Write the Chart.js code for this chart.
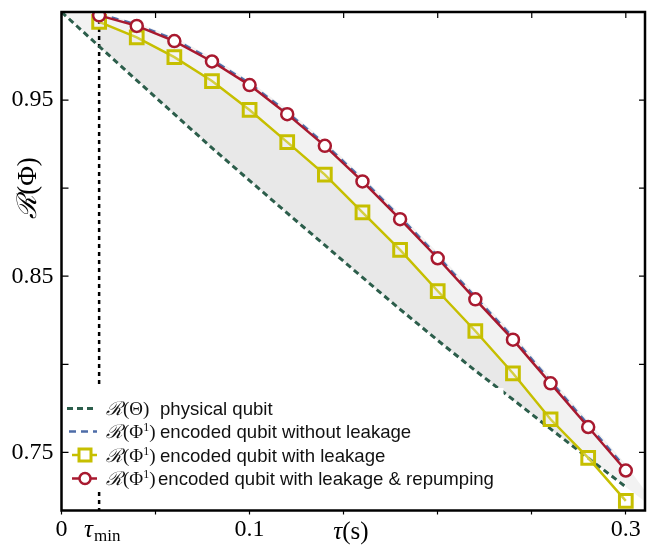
<!DOCTYPE html>
<html><head><meta charset="utf-8">
<script src="https://cdn.jsdelivr.net/npm/chart.js@4.4.1/dist/chart.umd.min.js"></script>
<style>html,body{margin:0;padding:0;background:#fff}#wrap{width:657px;height:548px}</style>
</head><body><div id="wrap"><canvas id="c" width="657" height="548"></canvas></div>
<script>
// ---- data ----
const tau = [0.02,0.04,0.06,0.08,0.10,0.12,0.14,0.16,0.18,0.20,0.22,0.24,0.26,0.28,0.30];
const repumped = [0.9981,0.9921,0.9835,0.9719,0.9585,0.9420,0.9240,0.9038,0.8824,0.8602,0.8369,0.8140,0.7892,0.7644,0.7397];
const withLeakage = [0.9944,0.9856,0.9744,0.9608,0.9444,0.9261,0.9077,0.8863,0.8649,0.8416,0.8189,0.7949,0.7688,0.7469,0.7225];
const noLeakage = [0.9988,0.9929,0.9844,0.9729,0.9595,0.9431,0.9251,0.9050,0.8836,0.8614,0.8382,0.8153,0.7905,0.7657,0.7410];
const physTau = [0,0.02,0.04,0.06,0.08,0.10,0.12,0.14,0.16,0.18,0.20,0.22,0.24,0.26,0.28,0.30,0.31];
const physical = [1.0,0.9805,0.9612,0.9420,0.9228,0.9043,0.8858,0.8676,0.8493,0.8312,0.8136,0.7964,0.7800,0.7633,0.7468,0.7304,0.7222];
const boundTau = [0,0.02,0.04,0.06,0.08,0.10,0.12,0.14,0.16,0.18,0.20,0.22,0.24,0.26,0.28,0.30,0.31];
const upperBound = [1.0,0.9995,0.9940,0.9857,0.9743,0.9610,0.9447,0.9268,0.9068,0.8855,0.8633,0.8402,0.8174,0.7927,0.7680,0.7433,0.7285];
const tauMin = 0.02;
const xTickValues = [0,0.05,0.10,0.15,0.20,0.25,0.30];
const xTickLabels = ['0','','0.1','','','','0.3'];
const yTickValues = [0.75,0.80,0.85,0.90,0.95];
const yTickLabels = ['0.75','','0.85','','0.95'];
const legendLabels = ['physical qubit','encoded qubit without leakage','encoded qubit with leakage','encoded qubit with leakage & repumping'];

const RED='#a8192f', YEL='#c6bf00', GRN='#2c5e4b', BLU='#4d6ca8';
const pts = (xs, ys) => xs.map((x,i)=>({x, y: ys[i]}));
const SERIF='"Liberation Serif", "DejaVu Serif", serif';
const SANS='"Liberation Sans", Arial, sans-serif';

function rich(ctx, x, y, parts){
  ctx.textAlign='left'; ctx.textBaseline='alphabetic';
  for(const p of parts){ ctx.font=p.f; ctx.fillText(p.t, x, y+(p.dy||0)); x+=ctx.measureText(p.t).width; }
  return x;
}
function richWidth(ctx, parts){ let w=0; for(const p of parts){ctx.font=p.f; w+=ctx.measureText(p.t).width;} return w; }

const decor = {
  id:'decor',
  afterDraw(chart){
    const {ctx, chartArea:a, scales:{x,y}} = chart;
    ctx.save();
    // legend
    ctx.fillStyle='#fff';
    ctx.fillRect(a.left+2, 388, 440, 104);
    const rows=[408.5,431.5,455,478.5];
    const ix0=67, ix1=97, icx=85;
    ctx.lineCap='butt';
    ctx.strokeStyle=GRN; ctx.lineWidth=3; ctx.setLineDash([6,4]);
    ctx.beginPath(); ctx.moveTo(ix0,rows[0]); ctx.lineTo(ix1,rows[0]); ctx.stroke();
    ctx.strokeStyle=BLU; ctx.lineWidth=2.5; ctx.setLineDash([7,5]);
    ctx.beginPath(); ctx.moveTo(ix0+2,rows[1]); ctx.lineTo(ix1,rows[1]); ctx.stroke();
    ctx.setLineDash([]);
    ctx.strokeStyle=YEL; ctx.lineWidth=2.5;
    ctx.beginPath(); ctx.moveTo(ix0+5,rows[2]); ctx.lineTo(ix1,rows[2]); ctx.stroke();
    ctx.lineWidth=3; ctx.fillStyle='#fff';
    ctx.fillRect(icx-6,rows[2]-6,12,12); ctx.strokeRect(icx-6,rows[2]-6,12,12);
    ctx.strokeStyle=RED; ctx.lineWidth=2.5;
    ctx.beginPath(); ctx.moveTo(ix0+5,rows[3]); ctx.lineTo(ix1,rows[3]); ctx.stroke();
    ctx.beginPath(); ctx.arc(icx,rows[3],5.5,0,Math.PI*2); ctx.fillStyle='#fff'; ctx.fill(); ctx.stroke();
    ctx.fillStyle='#111';
    const fS='italic 19px '+SERIF, fN='19px '+SERIF, fSup='12px '+SERIF, fT='18.6px '+SANS;
    const pre1=[{t:'ℛ',f:fS},{t:'(Θ)',f:fN}];
    const preP=[{t:'ℛ',f:fS},{t:'(Φ',f:fN},{t:'1',f:fSup,dy:-7},{t:')',f:fN}];
    const tx=106, txt=[160,160,160,158];
    [pre1,preP,preP,preP].forEach((p,i)=>{
      const base=rows[i]+6.5;
      rich(ctx,tx,base,p);
      ctx.font=fT; ctx.fillText(legendLabels[i], txt[i], base);
    });
    // frame
    ctx.strokeStyle='#000'; ctx.lineWidth=2.5; ctx.setLineDash([]);
    ctx.strokeRect(a.left, a.top, a.right-a.left, a.bottom-a.top);
    // mirrored / inward ticks
    ctx.lineWidth=1.2;
    ctx.beginPath();
    for(const v of xTickValues){ const px=x.getPixelForValue(v); ctx.moveTo(px,a.top); ctx.lineTo(px,a.top+6); }
    for(const v of yTickValues){ const py=y.getPixelForValue(v); ctx.moveTo(a.left,py); ctx.lineTo(a.left+7,py); ctx.moveTo(a.right,py); ctx.lineTo(a.right-6,py); }
    ctx.stroke();
    // tau_min label
    ctx.fillStyle='#000';
    const tmx=x.getPixelForValue(tauMin);
    rich(ctx, tmx-15, 537, [{t:'τ',f:'italic 25px '+SERIF}]);
    rich(ctx, tmx-5, 540.5, [{t:'min',f:'17px '+SERIF}]);
    // x title
    const xt=[{t:'τ',f:'italic 25px '+SERIF},{t:'(s)',f:'25px '+SERIF}];
    rich(ctx, 351-richWidth(ctx,xt)/2, 539, xt);
    // y title
    const yt=[{t:'ℛ',f:'italic 27px '+SERIF},{t:'(Φ)',f:'27px '+SERIF}];
    ctx.translate(36,188); ctx.rotate(-Math.PI/2);
    rich(ctx, -richWidth(ctx,yt)/2, 0, yt);
    ctx.restore();
  }
};

new Chart(document.getElementById('c'), {
  type:'line',
  data:{ datasets:[
    { label:'repumping', data:pts(tau,repumped), borderColor:RED, borderWidth:2.5,
      pointStyle:'circle', pointRadius:6, pointBorderWidth:2.5, pointBackgroundColor:'#fff', pointBorderColor:RED, fill:false },
    { label:'no leakage', data:pts(tau,noLeakage), borderColor:BLU, borderWidth:2.5, borderDash:[7,6], pointRadius:0, fill:false },
    { label:'leakage', data:pts(tau,withLeakage), borderColor:YEL, borderWidth:2.5,
      pointStyle:'rect', pointRadius:9, pointBorderWidth:3, pointBorderColor:YEL, pointBackgroundColor:'rgba(255,255,255,0.25)',
      fill:{target:3, above:'#e8e8e8', below:'rgba(0,0,0,0)'} },
    { label:'physical', data:pts(physTau,physical), borderColor:GRN, borderWidth:3, borderDash:[6,4], pointRadius:0, fill:false,
      segment:{ borderColor: c => c.p1DataIndex === physTau.length-1 ? 'rgba(0,0,0,0)' : GRN } },
    { label:'tau min', data:[{x:tauMin,y:1.0},{x:tauMin,y:0.7}], borderColor:'#000', borderWidth:2.5, borderDash:[4,4], pointRadius:0, fill:false },
    { label:'bound', data:pts(boundTau,upperBound), borderWidth:0, borderColor:'rgba(0,0,0,0)', pointRadius:0,
      fill:{target:3, above:'#f2f2f2', below:'#f2f2f2'} }
  ]},
  options:{
    responsive:false, animation:false, devicePixelRatio:1,
    layout:{padding:{top:5.5, right:9.5, left:0, bottom:0}},
    plugins:{ legend:{display:false}, tooltip:{enabled:false}, filler:{drawTime:'beforeDatasetsDraw'} },
    elements:{ line:{tension:0} },
    scales:{
      x:{ type:'linear', min:0, max:0.3102,
        afterBuildTicks: s => { s.ticks = xTickValues.map(v=>({value:v})); },
        afterFit: s => { s.height = 37.5; s.paddingLeft = 0; s.paddingRight = 0; },
        border:{display:false},
        grid:{ display:true, drawOnChartArea:false, drawTicks:true, tickLength:4, tickColor:'#000', tickWidth:1.2 },
        ticks:{ autoSkip:false, maxRotation:0, padding:1, color:'#000', font:{family:SERIF, size:24},
          callback:(v,i)=>xTickLabels[i] }
      },
      y:{ type:'linear', min:0.717, max:1.0,
        afterBuildTicks: s => { s.ticks = yTickValues.map(v=>({value:v})); },
        afterFit: s => { s.width = 61.5; s.paddingTop = 0; s.paddingBottom = 0; },
        border:{display:false},
        grid:{ display:false, drawTicks:false },
        ticks:{ autoSkip:false, padding:8, color:'#000', font:{family:SERIF, size:24},
          callback:(v,i)=>yTickLabels[i] }
      }
    }
  },
  plugins:[decor]
});
</script></body></html>
